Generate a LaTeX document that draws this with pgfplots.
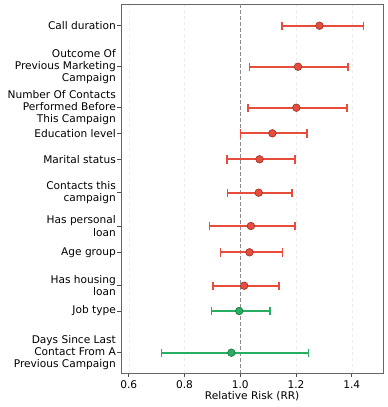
\documentclass[border=0pt]{standalone}
\usepackage{fontspec}
\setmainfont{DejaVu Sans}
\usepackage{pgfplots}
\pgfplotsset{compat=1.18}
\usepackage{pgfplotstable}
\definecolor{rrred}{HTML}{E74C3C}
\definecolor{rrgreen}{HTML}{27AE60}

% y = vertical position of each row, x = RR, em/ep = distance to CI ends
\pgfplotstableread{
y     x     em    ep
25.7  1.284 0.135 0.158
66.7  1.207 0.174 0.180
107.7 1.201 0.174 0.181
133.3 1.115 0.114 0.125
159.3 1.069 0.117 0.127
192.7 1.066 0.112 0.120
226.0 1.038 0.148 0.159
252.3 1.033 0.104 0.118
285.7 1.014 0.113 0.125
}\riskup
\pgfplotstableread{
y     x     em    ep
311.0 0.996 0.100 0.110
352.7 0.968 0.251 0.276
}\riskdown

\begin{document}
\fontsize{10.6}{12.3}\selectfont
\begin{tikzpicture}
\begin{axis}[
  scale only axis,
  width=262.3pt, height=369.3pt,
  xmin=0.572, xmax=1.513,
  ymin=4, ymax=373.3,
  y dir=reverse,
  xtick={0.6,0.8,1.0,1.2,1.4},
  xticklabels={0.6,0.8,1.0,1.2,1.4},
  ytick={25.7,66.7,107.7,133.3,159.3,192.7,226.0,252.3,285.7,311.0,352.7},
  yticklabels={Call duration,
    {Outcome Of\\Previous Marketing\\Campaign},
    {Number Of Contacts\\Performed Before\\This Campaign},
    Education level, Marital status,
    {Contacts this\\campaign},
    {Has personal\\loan},
    Age group,
    {Has housing\\loan},
    Job type,
    {Days Since Last\\Contact From A\\Previous Campaign}},
  yticklabel style={align=right, font=\fontsize{10.6}{12.3}\selectfont, inner sep=1.5pt},
  xticklabel style={font=\fontsize{10.6}{12.3}\selectfont},
  /pgf/number format/assume math mode=true,
  tick align=outside,
  tick pos=left,
  major tick length=3.5pt,
  tick style={black!70, line width=0.7pt},
  axis line style={black!60, line width=0.9pt},
  xmajorgrids=true,
  grid style={black!8, dashed, line width=0.5pt},
  xlabel={Relative Risk (RR)},
  xlabel style={font=\fontsize{10.6}{12.3}\selectfont, yshift=4pt},
  clip=false,
]
\draw[black!45, dash pattern=on 4pt off 2pt, line width=1.4pt] (axis cs:1.0,4) -- (axis cs:1.0,373.3);
\addplot[only marks, mark=*, mark size=3.8pt,
  mark options={fill=rrred, draw=rrred!65!black, line width=0.6pt},
  error bars/.cd, x dir=both, x explicit,
  error bar style={draw=rrred, line width=1.8pt},
  error mark options={rotate=90, mark size=4.2pt, line width=1.6pt, draw=rrred}]
  table[x=x, y=y, x error minus=em, x error plus=ep] {\riskup};
\addplot[only marks, mark=*, mark size=3.8pt,
  mark options={fill=rrgreen, draw=rrgreen!65!black, line width=0.6pt},
  error bars/.cd, x dir=both, x explicit,
  error bar style={draw=rrgreen, line width=1.8pt},
  error mark options={rotate=90, mark size=4.2pt, line width=1.6pt, draw=rrgreen}]
  table[x=x, y=y, x error minus=em, x error plus=ep] {\riskdown};
\end{axis}
\path[use as bounding box] (current axis.south west) ++(-121pt,-33.7pt) rectangle ++(388pt,407pt);
\end{tikzpicture}
\end{document}
